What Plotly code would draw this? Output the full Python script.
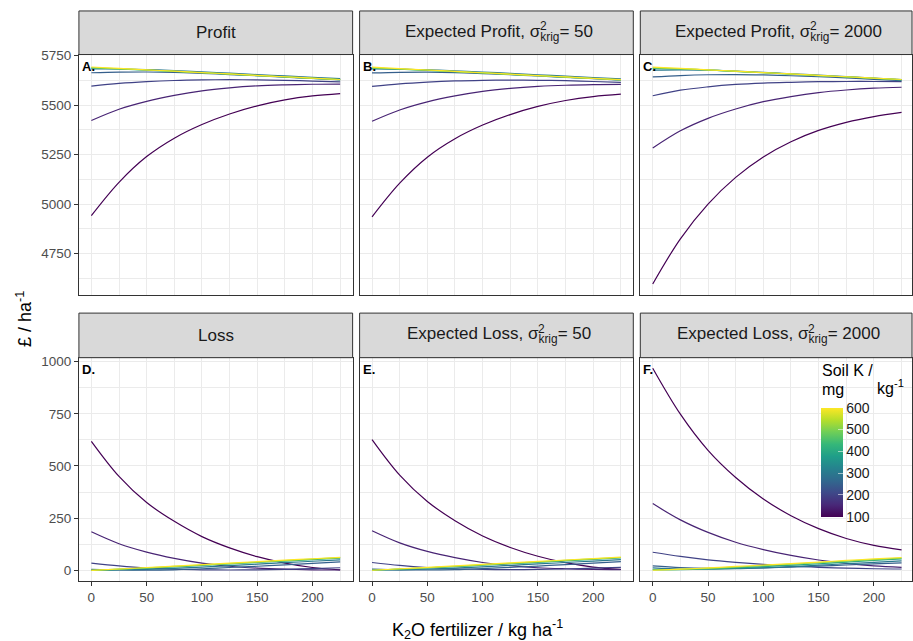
import plotly.graph_objects as go
from plotly.colors import sample_colorscale

# ---------------- data ----------------
X_FERT = [0, 25, 50, 75, 100, 125, 150, 175, 200, 225]
SOIL_K = [100, 150, 200, 250, 300, 400, 500, 600]

profit = {
    100: [4942, 5110, 5240, 5333, 5402, 5455, 5496, 5526, 5546, 5558],
    150: [5422, 5479, 5519, 5549, 5572, 5587, 5597, 5602, 5605, 5606],
    200: [5596, 5609, 5618, 5624, 5627, 5628, 5627, 5625, 5621, 5617],
    250: [5663, 5666, 5667, 5665, 5660, 5654, 5648, 5641, 5634, 5627],
    300: [5683, 5682, 5679, 5674, 5668, 5661, 5654, 5647, 5640, 5633],
    400: [5687, 5682, 5676, 5670, 5663, 5656, 5649, 5642, 5635, 5628],
    500: [5689, 5683, 5677, 5670, 5663, 5656, 5649, 5642, 5635, 5628],
    600: [5692, 5685, 5678, 5671, 5664, 5657, 5650, 5643, 5636, 5629],
}
exp_profit_50 = {
    100: [4936, 5106, 5237, 5330, 5399, 5452, 5493, 5523, 5543, 5555],
    150: [5418, 5475, 5516, 5546, 5569, 5584, 5594, 5600, 5603, 5604],
    200: [5594, 5607, 5616, 5622, 5625, 5626, 5625, 5623, 5619, 5615],
    250: [5662, 5665, 5666, 5664, 5659, 5653, 5647, 5640, 5633, 5626],
    300: [5682, 5681, 5678, 5673, 5667, 5660, 5653, 5646, 5639, 5632],
    400: [5686, 5681, 5675, 5669, 5662, 5655, 5648, 5641, 5634, 5627],
    500: [5688, 5682, 5676, 5669, 5662, 5655, 5648, 5641, 5634, 5627],
    600: [5691, 5684, 5677, 5670, 5663, 5656, 5649, 5642, 5635, 5628],
}
exp_profit_2000 = {
    100: [4597, 4825, 5000, 5135, 5238, 5315, 5372, 5413, 5442, 5463],
    150: [5283, 5370, 5433, 5480, 5517, 5543, 5563, 5576, 5585, 5590],
    200: [5547, 5575, 5592, 5604, 5611, 5615, 5618, 5619, 5619, 5618],
    250: [5642, 5649, 5653, 5654, 5652, 5648, 5643, 5637, 5630, 5623],
    300: [5676, 5678, 5676, 5671, 5665, 5658, 5651, 5644, 5636, 5628],
    400: [5685, 5682, 5677, 5670, 5663, 5656, 5649, 5642, 5635, 5627],
    500: [5688, 5683, 5677, 5670, 5663, 5656, 5649, 5642, 5635, 5628],
    600: [5691, 5685, 5678, 5671, 5664, 5657, 5650, 5643, 5636, 5629],
}
loss = {
    100: [618, 450, 325, 235, 162, 108, 66, 35, 14, 3],
    150: [185, 128, 88, 58, 35, 20, 11, 6, 3, 2],
    200: [35, 22, 12, 6, 3, 2, 3, 5, 9, 13],
    250: [5, 2, 1, 3, 8, 14, 20, 27, 34, 41],
    300: [1, 2, 5, 10, 16, 23, 30, 37, 44, 51],
    400: [0, 5, 11, 17, 24, 31, 38, 45, 52, 59],
    500: [0, 6, 12, 19, 26, 33, 40, 47, 54, 61],
    600: [0, 7, 14, 21, 28, 35, 42, 49, 56, 63],
}
exp_loss_50 = {
    100: [626, 456, 330, 238, 165, 110, 68, 37, 16, 5],
    150: [190, 132, 91, 61, 38, 23, 13, 8, 5, 4],
    200: [38, 24, 14, 8, 5, 4, 5, 7, 11, 15],
    250: [6, 3, 2, 4, 9, 15, 21, 28, 35, 42],
    300: [2, 3, 6, 11, 17, 24, 31, 38, 45, 52],
    400: [1, 6, 12, 18, 25, 32, 39, 46, 53, 60],
    500: [1, 7, 13, 20, 27, 34, 41, 48, 55, 62],
    600: [1, 8, 15, 22, 29, 36, 43, 50, 57, 64],
}
exp_loss_2000 = {
    100: [968, 748, 575, 445, 342, 262, 200, 153, 120, 98],
    150: [320, 242, 182, 135, 100, 72, 50, 34, 22, 15],
    200: [87, 67, 51, 39, 29, 21, 15, 11, 8, 7],
    250: [22, 14, 10, 10, 12, 16, 21, 26, 31, 36],
    300: [12, 7, 6, 8, 12, 18, 25, 32, 39, 46],
    400: [4, 4, 7, 12, 18, 25, 32, 40, 48, 55],
    500: [2, 5, 10, 16, 23, 30, 37, 45, 52, 59],
    600: [1, 6, 12, 19, 26, 33, 40, 48, 55, 62],
}

X_TICKS = [0, 50, 100, 150, 200]
Y_TICKS_PROFIT = [4750, 5000, 5250, 5500, 5750]
Y_TICKS_LOSS = [0, 250, 500, 750, 1000]
CB_TICKS = [100, 200, 300, 400, 500, 600]

PANEL_DATA = [profit, exp_profit_50, exp_profit_2000, loss, exp_loss_50, exp_loss_2000]
PANEL_TAGS = ["A.", "B.", "C.", "D.", "E.", "F."]
# (prefix, sigma-value) ; None = plain title
PANEL_TITLES = [("Profit", None), ("Expected Profit, σ", "= 50"), ("Expected Profit, σ", "= 2000"),
                ("Loss", None), ("Expected Loss, σ", "= 50"), ("Expected Loss, σ", "= 2000")]

# ---------------- layout geometry (pixels) ----------------
W, H = 913, 641
FONT = "Liberation Sans, Arial, sans-serif"


def fx(p):
    return p / W


def fy(p):
    return 1 - p / H


COLS = [(79, 353), (360, 634), (641, 913)]
ROWS_PLOT = [(49, 292), (355, 580)]
ROWS_STRIP = [(5, 49), (310, 355)]
XSCALE = 274.0 / 247.5  # px per unit
Y_RANGES = [[4540, 5755], [-48.5, 1018.5]]

# Arial/Liberation Sans advance widths (em)
CW = {'E': .667, 'x': .5, 'p': .556, 'e': .556, 'c': .5, 't': .278, 'd': .556, ' ': .278,
      'P': .667, 'r': .333, 'o': .556, 'f': .278, 'i': .222, ',': .278, 'L': .556, 's': .5,
      'k': .5, 'g': .556, '=': .584, 'σ': .57}


def tw(s, size):
    return sum(CW.get(ch, .556) for ch in s) * size


fig = go.Figure()

line_colors = sample_colorscale("Viridis", [(k - 100) / 500 for k in SOIL_K])

shapes = []
annotations = []
STRIP_FS = 17
TICK_FS = 13.5

for i, data in enumerate(PANEL_DATA):
    r, c = divmod(i, 3)
    n = i + 1
    xa = "x" if n == 1 else f"x{n}"
    ya = "y" if n == 1 else f"y{n}"
    for k, col in zip(SOIL_K, line_colors):
        fig.add_trace(go.Scatter(
            x=X_FERT, y=data[k], mode="lines", line=dict(color=col, width=1.2, shape="spline"),
            xaxis=xa, yaxis=ya, showlegend=False, hoverinfo="skip"))

    x0, x1 = COLS[c]
    y0, y1 = ROWS_PLOT[r]
    xr0 = -11.25
    xr1 = xr0 + (x1 - x0) / XSCALE
    axis_common = dict(showline=True, mirror=True, linecolor="#333333", linewidth=1,
                       showgrid=True, gridcolor="#EBEBEB", gridwidth=1.1, zeroline=False,
                       tickfont=dict(family=FONT, size=TICK_FS, color="#4D4D4D"),
                       tickcolor="#333333", ticklen=4, tickwidth=1)
    xkw = dict(axis_common, domain=[fx(x0), fx(x1)], range=[xr0, xr1], anchor=ya,
               tickmode="array", tickvals=X_TICKS,
               minor=dict(tickvals=[25, 75, 125, 175, 225], showgrid=True,
                          gridcolor="#EBEBEB", gridwidth=0.6, ticks=""))
    if r == 0:
        xkw.update(showticklabels=False, ticks="")
    else:
        xkw.update(ticks="outside")
    yticks = Y_TICKS_PROFIT if r == 0 else Y_TICKS_LOSS
    yminor = [4625, 4875, 5125, 5375, 5625] if r == 0 else [125, 375, 625, 875]
    ykw = dict(axis_common, domain=[fy(y1), fy(y0)], range=Y_RANGES[r], anchor=xa,
               tickmode="array", tickvals=yticks,
               minor=dict(tickvals=yminor, showgrid=True, gridcolor="#EBEBEB",
                          gridwidth=0.6, ticks=""))
    if c == 0:
        ykw.update(ticks="outside")
    else:
        ykw.update(showticklabels=False, ticks="")
    fig.update_layout(**{("xaxis" if n == 1 else f"xaxis{n}"): xkw,
                         ("yaxis" if n == 1 else f"yaxis{n}"): ykw})

    # strip
    s0, s1 = ROWS_STRIP[r]
    shapes.append(dict(type="rect", xref="paper", yref="paper", x0=fx(x0), x1=fx(x1),
                       y0=fy(s1), y1=fy(s0), fillcolor="#D9D9D9",
                       line=dict(color="#333333", width=1), layer="above"))
    cx = (x0 + x1) / 2
    cy = (s0 + s1) / 2
    prefix, tail = PANEL_TITLES[i]
    if tail is None:
        annotations.append(dict(text=prefix, x=fx(cx), y=fy(cy), xref="paper", yref="paper",
                                xanchor="center", yanchor="middle", showarrow=False,
                                font=dict(family=FONT, size=STRIP_FS, color="#1A1A1A")))
    else:
        total = tw(prefix, STRIP_FS) + tw("krig", STRIP_FS * 0.7) + tw(tail, STRIP_FS)
        left = cx - total / 2
        annotations.append(dict(text=f"{prefix}<sub>krig</sub>{tail}", x=fx(left), y=fy(cy),
                                xref="paper", yref="paper", xanchor="left", yanchor="middle",
                                showarrow=False,
                                font=dict(family=FONT, size=STRIP_FS, color="#1A1A1A")))
        annotations.append(dict(text="2", x=fx(left + tw(prefix, STRIP_FS) + 0.5), y=fy(cy - 6.5),
                                xref="paper", yref="paper", xanchor="left", yanchor="middle",
                                showarrow=False,
                                font=dict(family=FONT, size=12, color="#1A1A1A")))
    # panel tag
    annotations.append(dict(text=f"<b>{PANEL_TAGS[i]}</b>", x=fx(x0 + 1), y=fy(y0 + 2),
                            xref="paper", yref="paper", xanchor="left", yanchor="top",
                            showarrow=False, font=dict(family=FONT, size=13, color="#000000")))

# colour bar (dummy trace)
fig.add_trace(go.Scatter(
    x=[None], y=[None], mode="markers", xaxis="x6", yaxis="y6", showlegend=False,
    hoverinfo="skip",
    marker=dict(color=[SOIL_K[0], SOIL_K[-1]], colorscale="Viridis", cmin=100, cmax=600,
                showscale=True,
                colorbar=dict(x=fx(822), xanchor="left", xpad=0, ypad=0,
                              y=fy(460.5), yanchor="middle", len=109, lenmode="pixels",
                              thickness=22, thicknessmode="pixels", outlinewidth=0,
                              tickmode="array", tickvals=CB_TICKS, ticks="inside",
                              ticklen=5, tickcolor="rgba(255,255,255,0.55)",
                              tickfont=dict(family=FONT, size=14, color="#1A1A1A")))))

# legend title
annotations.append(dict(text="Soil K /", x=fx(821), y=fy(368), xref="paper", yref="paper",
                        xanchor="left", yanchor="middle", showarrow=False,
                        font=dict(family=FONT, size=16, color="#000000")))
annotations.append(dict(text="mg", x=fx(821), y=fy(387), xref="paper", yref="paper",
                        xanchor="left", yanchor="middle", showarrow=False,
                        font=dict(family=FONT, size=16, color="#000000")))
annotations.append(dict(text="kg<sup>-1</sup>", x=fx(876), y=fy(385), xref="paper", yref="paper",
                        xanchor="left", yanchor="middle", showarrow=False,
                        font=dict(family=FONT, size=16, color="#000000")))

# axis titles
annotations.append(dict(text="K<sub>2</sub>O fertilizer / kg ha<sup>-1</sup>", x=fx(478), y=fy(629),
                        xref="paper", yref="paper", xanchor="center", yanchor="middle",
                        showarrow=False, font=dict(family=FONT, size=18, color="#000000")))
annotations.append(dict(text="£ / ha<sup>-1</sup>", x=fx(24), y=fy(316), xref="paper", yref="paper",
                        xanchor="center", yanchor="middle", textangle=-90, showarrow=False,
                        font=dict(family=FONT, size=18, color="#000000")))

fig.update_layout(width=W, height=H, margin=dict(l=0, r=0, t=0, b=0),
                  paper_bgcolor="white", plot_bgcolor="white",
                  shapes=shapes, annotations=annotations,
                  font=dict(family=FONT))

fig.write_html("out.html")
